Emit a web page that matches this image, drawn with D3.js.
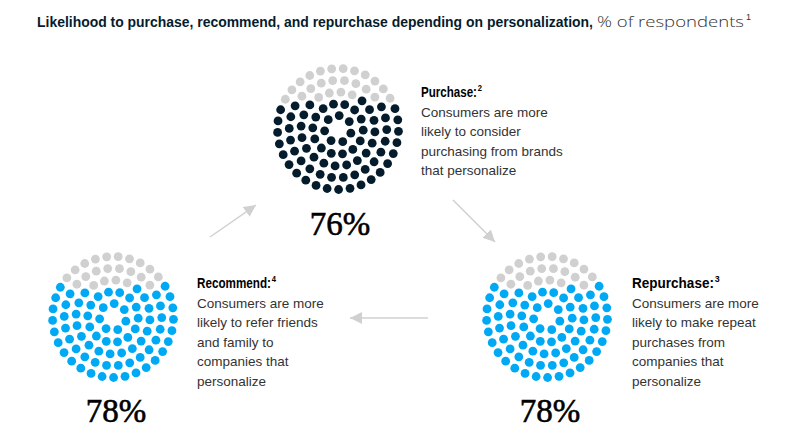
<!DOCTYPE html>
<html><head><meta charset="utf-8">
<script src="https://cdn.jsdelivr.net/npm/d3@7"></script>
<style>
html,body{margin:0;padding:0;background:#fff;}
svg{display:block;}
</style></head>
<body>
<svg id="chart" width="796" height="448"></svg>
<script>
// ---- data ----
const titleBold = "Likelihood to purchase, recommend, and repurchase depending on personalization,";
const titleNormal = "% of respondents";
const titleNote = "1";
const categories = ["Purchase", "Recommend", "Repurchase"];
const values = [76, 78, 78];
const footnotes = ["2", "4", "3"];
const descriptions = [
  ["Consumers are more", "likely to consider", "purchasing from brands", "that personalize"],
  ["Consumers are more", "likely to refer friends", "and family to", "companies that", "personalize"],
  ["Consumers are more", "likely to make repeat", "purchases from", "companies that", "personalize"]
];
const ringCounts = [7, 14, 20, 26, 33]; // 100 dots per circle

// ---- layout ----
const svg = d3.select("#chart");
const fontSans = "'Liberation Sans', Arial, sans-serif";
const colors = d3.scaleOrdinal().domain(categories).range(["#051c2c", "#00a9f4", "#00a9f4"]);
const grey = "#d0d0d0";
const centers = [[338, 129], [113, 317], [547, 317]];
const textPos = [[421, 97], [197, 288], [632, 288]];
const headW = [56, 74, 82];
const pctPos = [[340, 235], [116, 422], [550, 422]];
const ringR = d3.scaleLinear().domain([0, ringCounts.length - 1]).range([13.5, 60.5]);
const phase = [0.35, 0.1, 0.25, 0.05, 0.2];

// title
const t = svg.append("text").attr("x", 37).attr("y", 27).attr("fill", "#051c2c");
t.append("tspan").attr("font-family", fontSans).attr("font-size", 14).attr("font-weight", "bold")
  .attr("textLength", 556).attr("lengthAdjust", "spacingAndGlyphs").text(titleBold);
t.append("tspan").attr("x", 597).attr("font-family", "'Open Sans', " + fontSans).attr("font-weight", 300)
  .attr("font-size", 15).attr("fill", "#333")
  .attr("textLength", 147).attr("lengthAdjust", "spacingAndGlyphs").text(titleNormal);
t.append("tspan").attr("x", 746).attr("dy", -7).attr("font-family", fontSans)
  .attr("font-size", 9).attr("fill", "#333").text(titleNote);

// build dot positions
function dotsFor(cx, cy) {
  const pts = [];
  ringCounts.forEach((n, i) => {
    const r = ringR(i);
    for (let k = 0; k < n; k++) {
      const a = 2 * Math.PI * (k + phase[i]) / n;
      pts.push({x: cx + r * Math.cos(a), y: cy + r * Math.sin(a)});
    }
  });
  return pts;
}

categories.forEach((cat, ci) => {
  const [cx, cy] = centers[ci];
  const pts = dotsFor(cx, cy);
  const total = pts.length;
  const nGrey = total - Math.round(values[ci] / 100 * total);
  const sorted = pts.slice().sort((a, b) => a.y - b.y);
  sorted.forEach((p, i) => p.grey = i < nGrey);
  svg.append("g").selectAll("circle").data(pts).join("circle")
    .attr("cx", d => d.x).attr("cy", d => d.y).attr("r", 4.4)
    .attr("fill", d => d.grey ? grey : colors(cat));

  // percentage
  svg.append("text").attr("x", pctPos[ci][0]).attr("y", pctPos[ci][1])
    .attr("text-anchor", "middle")
    .attr("font-family", "'Liberation Serif', 'Times New Roman', serif")
    .attr("font-size", 33).attr("fill", "#000")
    .attr("stroke", "#000").attr("stroke-width", 0.6)
    .text(values[ci] + "%");

  // label heading with superscript, condensed horizontally
  const [tx, ty] = textPos[ci];
  const g = svg.append("g").attr("transform", `translate(${tx},${ty})`);
  const h = g.append("text").attr("x", 0).attr("y", 0)
    .attr("font-family", fontSans).attr("font-size", 14.5).attr("font-weight", "bold").attr("fill", "#000");
  const main = h.append("tspan").text(cat + ":");
  h.append("tspan").attr("dx", 1).attr("dy", -6).attr("font-size", 9.5).text(footnotes[ci]);
  const w = main.node().getComputedTextLength();
  h.attr("transform", `scale(${headW[ci] / w},1)`);

  descriptions[ci].forEach((line, li) => {
    svg.append("text").attr("x", tx).attr("y", ty + 19.5 * (li + 1))
      .attr("font-family", fontSans).attr("font-size", 13.5).attr("fill", "#333")
      .text(line);
  });
});

// arrows
const defs = svg.append("defs");
defs.append("marker").attr("id", "ah").attr("viewBox", "0 0 10 10")
  .attr("refX", 10).attr("refY", 5).attr("markerWidth", 12).attr("markerHeight", 12)
  .attr("markerUnits", "userSpaceOnUse").attr("orient", "auto")
  .append("path").attr("d", "M0,0 L10,5 L0,10 Z").attr("fill", "#d0d0d0");
const arrows = [[[210, 237], [256, 205]], [[453, 200], [495, 242]], [[428, 318], [350, 318]]];
svg.append("g").selectAll("line").data(arrows).join("line")
  .attr("x1", d => d[0][0]).attr("y1", d => d[0][1])
  .attr("x2", d => d[1][0]).attr("y2", d => d[1][1])
  .attr("stroke", "#d0d0d0").attr("stroke-width", 1.5)
  .attr("marker-end", "url(#ah)");
</script>
</body></html>
